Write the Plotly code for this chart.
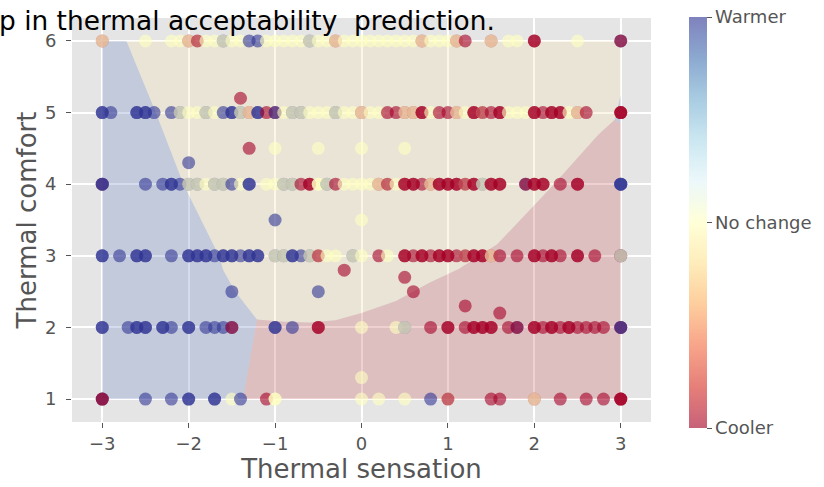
import plotly.graph_objects as go

# ---------------- data ----------------
# class labels: -1 = Cooler, 0 = No change, 1 = Warmer  (repeated entries = stacked points)
row6_x = [-3.0, -3.0, -2.5, -2.2, -2.1, -2.0, -2.0, -1.9, -1.9, -1.8, -1.7, -1.6, -1.6, -1.5, -1.4,
          -1.3, -1.2, -1.1, -1.0, -0.9, -0.8, -0.7, -0.6, -0.6, -0.5, -0.4, -0.3, -0.3, -0.2, -0.1,
          0.0, 0.1, 0.2, 0.3, 0.4, 0.5, 0.6, 0.7, 0.7, 0.8, 0.9, 1.0, 1.1, 1.1, 1.2, 1.5, 1.5, 1.7,
          1.8, 2.0, 2.0, 2.5, 3.0, 3.0]
row6_c = [-1, 0, 0, 0, 0, -1, 0, 0, -1, 0, 0, 1, 0, 0, 0,
          1, 1, 0, 0, 0, 0, 0, 1, 0, 0, 0, -1, 0, 0, 0,
          0, 0, 0, 0, 0, 0, 0, -1, 0, 0, 0, 0, -1, 0, -1, -1, 0, 0,
          0, -1, -1, 0, 1, -1]

row5_x = [-3.0, -3.0, -2.9, -2.6, -2.6, -2.5, -2.5, -2.4, -2.2, -2.1, -2.1, -2.0, -1.9, -1.8, -1.8,
          -1.7, -1.6, -1.5, -1.5, -1.4, -1.4, -1.3, -1.3, -1.2, -1.2, -1.1, -1.0, -1.0, -0.9, -0.8,
          -0.8, -0.7, -0.7, -0.6, -0.5, -0.4, -0.3, -0.3, -0.2, -0.1, 0.0, 0.0, 0.1, 0.2, 0.3, 0.4,
          0.5, 0.5, 0.6, 0.6, 0.7, 0.7, 0.8, 0.9, 1.0, 1.1, 1.1, 1.2, 1.3, 1.3, 1.4, 1.4, 1.5, 1.6,
          1.6, 1.7, 1.8, 1.9, 2.0, 2.0, 2.1, 2.2, 2.2, 2.3, 2.3, 2.4, 2.5, 2.5, 2.6, 3.0, 3.0, 3.0]
row5_c = [1, 1, 1, 1, 1, 1, 1, 1, 1, 1, 0, 0, 0, 1, 0,
          0, 1, 1, 1, 1, 0, -1, 0, 1, 1, -1, -1, 1, 0, 1,
          0, 1, 0, 0, 0, 0, 1, 0, 0, 0, -1, 0, 0, 0, -1, -1,
          -1, 0, -1, 0, -1, -1, 0, -1, -1, -1, 0, 0, -1, -1, 0, -1, -1, -1,
          -1, 0, 0, 0, -1, -1, -1, -1, -1, -1, -1, 0, -1, 0, -1, -1, -1, -1]

row4_x = [-3.0, -3.0, -3.0, -2.5, -2.3, -2.2, -2.2, -2.1, -2.0, -2.0, -1.9, -1.9, -1.8, -1.7, -1.7,
          -1.6, -1.6, -1.5, -1.4, -1.3, -1.3, -1.1, -1.0, -0.9, -0.9, -0.8, -0.8, -0.7, -0.6, -0.6,
          -0.5, -0.5, -0.4, -0.4, -0.3, -0.2, -0.1, 0.0, 0.1, 0.2, 0.2, 0.3, 0.3, 0.4, 0.5, 0.5,
          0.6, 0.6, 0.7, 0.8, 0.8, 0.9, 0.9, 1.0, 1.0, 1.1, 1.1, 1.2, 1.2, 1.3, 1.3, 1.4, 1.4, 1.5,
          1.5, 1.6, 1.6, 1.9, 1.9, 2.0, 2.0, 2.1, 2.1, 2.3, 2.5, 2.5, 3.0, 3.0, 3.0]
row4_c = [-1, 1, 1, 1, 1, 1, 1, 1, 1, 0, 1, 0, 0, 1, 0,
          1, 0, 1, 0, 1, 1, 0, 0, 1, 0, 1, 0, -1, -1, -1,
          0, 0, 1, 0, -1, 0, 0, 0, 0, -1, 0, 0, -1, 0, -1, -1,
          -1, -1, -1, -1, 0, -1, -1, -1, -1, -1, -1, 0, -1, -1, -1, 1, 0, -1,
          -1, -1, -1, 1, -1, -1, -1, -1, -1, -1, -1, -1, 1, 1, 1]

row3_x = [-3.0, -3.0, -2.8, -2.6, -2.6, -2.5, -2.5, -2.2, -2.0, -2.0, -1.9, -1.9, -1.8, -1.8, -1.7,
          -1.6, -1.6, -1.5, -1.5, -1.4, -1.3, -1.3, -1.2, -1.2, -1.0, -1.0, -0.9, -0.9, -0.8, -0.8,
          -0.7, -0.6, -0.6, -0.5, -0.5, -0.4, -0.3, -0.1, -0.1, 0.0, 0.2, 0.3, 0.5, 0.5, 0.6, 0.7,
          0.7, 0.8, 0.9, 0.9, 1.0, 1.0, 1.1, 1.2, 1.2, 1.3, 1.3, 1.4, 1.4, 1.5, 1.5, 1.6, 1.8, 2.0,
          2.0, 2.1, 2.2, 2.2, 2.3, 2.5, 2.5, 2.7, 3.0, 3.0, 3.0]
row3_c = [1, 1, 1, 1, 1, 1, 1, 1, 1, 1, 1, 1, 1, 1, 1,
          1, 1, 1, 1, 1, 1, 1, 1, 1, 1, 0, 1, 0, 1, 1,
          1, 1, 0, 0, -1, 0, 0, 1, 0, 0, -1, 0, -1, -1, -1, -1,
          -1, -1, -1, -1, -1, -1, -1, 0, -1, -1, -1, -1, -1, -1, 0, -1, -1, -1,
          -1, -1, -1, -1, -1, -1, -1, -1, -1, 1, 0]

row2_x = [-3.0, -3.0, -2.7, -2.6, -2.6, -2.5, -2.5, -2.3, -2.3, -2.2, -2.0, -2.0, -1.8, -1.7, -1.6,
          -1.5, -1.5, -1.0, -1.0, -0.8, -0.5, -0.5, 0.0, 0.4, 0.5, 0.5, 0.8, 1.0, 1.0, 1.2, 1.3,
          1.3, 1.4, 1.4, 1.5, 1.5, 1.7, 1.8, 1.8, 2.0, 2.0, 2.1, 2.2, 2.2, 2.3, 2.4, 2.4, 2.5, 2.6,
          2.7, 2.8, 3.0, 3.0, 3.0]
row2_c = [1, 1, 1, 1, 1, 1, 1, 1, 1, 1, 1, 1, 1, 1, 1,
          1, -1, 1, 1, 1, -1, -1, 0, 0, 1, 0, -1, -1, -1, -1, -1,
          -1, -1, -1, -1, -1, -1, 1, -1, -1, -1, -1, -1, -1, -1, -1, -1, -1, -1,
          -1, -1, 1, -1, 1]

row1_x = [-3.0, -3.0, -3.0, -2.5, -2.2, -2.0, -2.0, -1.7, -1.7, -1.5, -1.4, -1.1, -1.0, -1.0, 0.0,
          0.2, 0.5, 0.8, 1.0, 1.0, 1.5, 1.6, 2.0, 2.0, 2.3, 2.6, 2.8, 3.0, 3.0, 3.0]
row1_c = [-1, 1, -1, 1, 1, 1, 1, 1, 1, 0, 1, -1, 0, 0, 0,
          0, 0, 1, 0, -1, -1, -1, -1, 0, -1, -1, -1, -1, -1, -1]

# points lying between comfort levels
between_x = [-1.4, -1.3, -1.0, -0.5, 0.0, 0.5, -2.0, -1.0, 0.0, -0.2, 0.5, 0.6, -0.5, -1.5, 1.2, 1.6, 0.0]
between_y = [5.2, 4.5, 4.5, 4.5, 4.5, 4.5, 4.3, 3.5, 3.5, 2.8, 2.7, 2.5, 2.5, 2.5, 2.3, 2.2, 1.3]
between_c = [-1, -1, 0, 0, 0, 0, 1, 1, 0, -1, -1, -1, 1, 1, -1, -1, 0]

comfort_levels = [6, 5, 4, 3, 2, 1]

# decision-region boundaries
warm_edge_x = [-2.72, -2.38, -2.06, -1.65, -1.60, -1.46, -1.21]   # warmer / no change
warm_edge_y = [6.0, 5.0, 4.0, 3.0, 2.8, 2.5, 2.11]
cool_edge_x = [-1.21, -0.9, -0.6, -0.3, 0.0, 0.4, 0.78, 1.13, 1.57, 2.22, 2.74, 2.93]  # cooler / no change
cool_edge_y = [2.11, 2.08, 2.07, 2.10, 2.20, 2.37, 2.62, 2.82, 3.16, 3.99, 4.69, 4.90]
warm_cool_x = [-1.21, -1.37]        # warmer / cooler
warm_cool_y = [2.11, 1.0]
corner_tip_y = [4.85, 5.25]         # small warmer patch at the right edge
x_min, x_max, y_min, y_max = -3.0, 3.0, 1.0, 6.0

x_ticks = [-3, -2, -1, 0, 1, 2, 3]
y_ticks = [1, 2, 3, 4, 5, 6]
cbar_vals = [-1, 0, 1]
cbar_text = ["Cooler", "No change", "Warmer"]

# ---------------- build ----------------
xs, ys, cs = [], [], []
for lvl, rx, rc in zip(comfort_levels, [row6_x, row5_x, row4_x, row3_x, row2_x, row1_x],
                       [row6_c, row5_c, row4_c, row3_c, row2_c, row1_c]):
    xs += rx
    ys += [lvl] * len(rx)
    cs += rc
xs += between_x
ys += between_y
cs += between_c

rdylbu = ['rgb(165,0,38)', 'rgb(215,48,39)', 'rgb(244,109,67)', 'rgb(253,174,97)',
          'rgb(254,224,144)', 'rgb(255,255,191)', 'rgb(224,243,248)', 'rgb(171,217,233)',
          'rgb(116,173,209)', 'rgb(69,117,180)', 'rgb(49,54,149)']


def fade(c, a=0.62):
    v = [int(t) for t in c[4:-1].split(',')]
    v = [round(a * t + (1 - a) * 255) for t in v]
    return 'rgb(%d,%d,%d)' % tuple(v)


scale = [[i / 10, c] for i, c in enumerate(rdylbu)]
scale_faded = [[i / 10, fade(c)] for i, c in enumerate(rdylbu)]

FONT = 'DejaVu Sans'
fig = go.Figure()

# regions
blue_px = [x_min] + warm_edge_x + warm_cool_x[1:] + [x_min]
blue_py = [y_max] + warm_edge_y + warm_cool_y[1:] + [y_min]
red_px = warm_cool_x[::-1] + cool_edge_x[1:] + [x_max, x_max]
red_py = warm_cool_y[::-1] + cool_edge_y[1:] + [corner_tip_y[0], y_min]
yel_px = [warm_edge_x[0], x_max, x_max] + cool_edge_x[::-1] + warm_edge_x[::-1][1:]
yel_py = [y_max, y_max, corner_tip_y[1]] + cool_edge_y[::-1] + warm_edge_y[::-1][1:]
tip_px = [cool_edge_x[-1], x_max, x_max]
tip_py = [cool_edge_y[-1], corner_tip_y[1], corner_tip_y[0]]

for px, py, col in [(blue_px, blue_py, 'rgba(116,139,196,0.3)'),
                    (yel_px, yel_py, 'rgba(242,226,179,0.3)'),
                    (red_px, red_py, 'rgba(202,102,106,0.3)'),
                    (tip_px, tip_py, 'rgba(116,139,196,0.3)')]:
    fig.add_trace(go.Scatter(x=px, y=py, fill='toself', fillcolor=col, mode='lines',
                             line=dict(width=0), hoverinfo='skip'))

fig.add_trace(go.Scatter(
    x=xs, y=ys, mode='markers',
    marker=dict(size=13, color=cs, colorscale=scale, cmin=-1, cmax=1, opacity=0.6,
                line=dict(width=0), showscale=False)))

# colorbar (faded like the alpha-blended markers)
fig.add_trace(go.Scatter(
    x=[None], y=[None], mode='markers',
    marker=dict(color=[0], colorscale=scale_faded, cmin=-1, cmax=1, showscale=True,
                colorbar=dict(x=(691 - 72) / 581, xanchor='left', xpad=0, ypad=0,
                              thickness=18, lenmode='pixels', len=411,
                              y=1 - (222.5 - 18) / 404, yanchor='middle',
                              outlinewidth=0, tickvals=cbar_vals, ticktext=cbar_text,
                              ticks='outside', ticklen=5, tickcolor='#555',
                              tickfont=dict(family=FONT, size=18, color='#555')))))

fig.add_annotation(text='p in thermal acceptability\u00a0 prediction.', xref='paper', yref='paper',
                   x=(498 - 72) / 581, y=1 - (20.5 - 18) / 404, xanchor='right', yanchor='middle',
                   showarrow=False, font=dict(family=FONT, size=26.4, color='black'))

fig.update_layout(
    width=824, height=487, margin=dict(l=72, r=171, t=18, b=65),
    paper_bgcolor='white', plot_bgcolor='#E5E5E5', showlegend=False,
    font=dict(family=FONT, color='#555'),
    xaxis=dict(range=[-3.35, 3.35], tickvals=x_ticks, showgrid=True, gridcolor='white',
               gridwidth=1.5, zeroline=False, ticks='outside', ticklen=5, tickcolor='#555',
               tickfont=dict(size=18, color='#555'), automargin=False,
               title=dict(text='Thermal sensation', font=dict(size=26, color='#555'), standoff=6)),
    yaxis=dict(range=[0.68, 6.32], tickvals=y_ticks, showgrid=True, gridcolor='white',
               gridwidth=1.5, zeroline=False, ticks='outside', ticklen=5, tickcolor='#555',
               ticklabelstandoff=6,
               tickfont=dict(size=18, color='#555'), automargin=False,
               title=dict(text='Thermal comfort', font=dict(size=26, color='#555'), standoff=0)),
)

fig.write_html('out.html')
